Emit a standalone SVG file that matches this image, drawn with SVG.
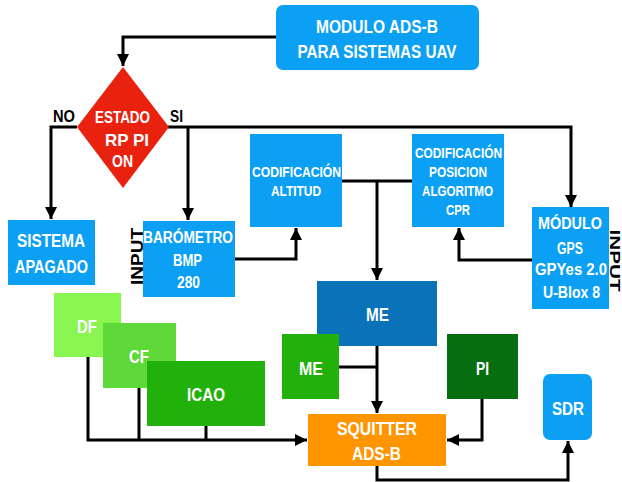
<svg xmlns="http://www.w3.org/2000/svg" width="622" height="482" viewBox="0 0 622 482">
<defs>
<marker id="ah" markerUnits="userSpaceOnUse" markerWidth="12" markerHeight="12" refX="12" refY="6" orient="auto">
<path d="M0,0 L12,6 L0,12 z" fill="#000"/>
</marker>
<style>
.t{font-family:"Liberation Sans",Arial,sans-serif;font-weight:bold;fill:#fff;text-anchor:middle}
.k{font-family:"Liberation Sans",Arial,sans-serif;font-weight:bold;fill:#000;text-anchor:middle}
.c{fill:none;stroke:#000;stroke-width:3}
.a{marker-end:url(#ah)}
.blue{fill:#0ca0f5}
</style>
</defs>
<rect width="622" height="482" fill="#fff"/>

<g id="connectors">
<path class="c a" d="M276,37 H123 V66"/>
<path class="c a" d="M77,127 H51 V219"/>
<path class="c a" d="M168,127 H571 V207"/>
<path class="c a" d="M188,127 V220"/>
<path class="c a" d="M235,259 H296 V228"/>
<path class="c" d="M342,181 H412"/>
<path class="c a" d="M377,181 V280"/>
<path class="c a" d="M532,260 H459 V228"/>
<path class="c a" d="M88,357 V440 H307"/>
<path class="c" d="M139,388 V440"/>
<path class="c" d="M206,426 V440"/>
<path class="c" d="M339,367 H377"/>
<path class="c a" d="M377,346 V413"/>
<path class="c a" d="M482,399 V440 H447"/>
<path class="c a" d="M377,466 V480 H568 V441"/>
</g>

<g id="modulo">
<rect class="blue" x="276" y="5" width="203" height="65" rx="7"/>
<text class="t" x="377" y="33" font-size="18" textLength="122" lengthAdjust="spacingAndGlyphs">MODULO ADS-B</text>
<text class="t" x="377" y="58" font-size="18" textLength="159" lengthAdjust="spacingAndGlyphs">PARA SISTEMAS UAV</text>
</g>

<g id="estado">
<polygon points="123,67 169,127 123,188 77,127" fill="#e8220f"/>
<text class="t" x="122.5" y="123" font-size="17" textLength="55" lengthAdjust="spacingAndGlyphs">ESTADO</text>
<text class="t" x="127" y="146" font-size="17" textLength="44" lengthAdjust="spacingAndGlyphs">RP PI</text>
<text class="t" x="122.5" y="167" font-size="17" textLength="21" lengthAdjust="spacingAndGlyphs">ON</text>
</g>

<g id="labels">
<text class="k" x="64" y="122" font-size="17" textLength="22" lengthAdjust="spacingAndGlyphs">NO</text>
<text class="k" x="176.5" y="122" font-size="17" textLength="13" lengthAdjust="spacingAndGlyphs">SI</text>
<text class="k" transform="translate(143,256.5) rotate(-90)" x="0" y="0" font-size="16" textLength="57" lengthAdjust="spacingAndGlyphs">INPUT</text>
<text class="k" transform="translate(610,260.5) rotate(90)" x="0" y="0" font-size="14" textLength="62" lengthAdjust="spacingAndGlyphs">INPUT</text>
</g>

<g id="apagado">
<rect class="blue" x="8" y="220" width="87" height="65"/>
<text class="t" x="51" y="247" font-size="18" textLength="68" lengthAdjust="spacingAndGlyphs">SISTEMA</text>
<text class="t" x="51.5" y="273" font-size="18" textLength="73" lengthAdjust="spacingAndGlyphs">APAGADO</text>
</g>

<g id="barometro">
<rect class="blue" x="143" y="221" width="92" height="76"/>
<text class="t" x="188" y="243" font-size="16" textLength="90" lengthAdjust="spacingAndGlyphs">BARÓMETRO</text>
<text class="t" x="187.5" y="266" font-size="16" textLength="29" lengthAdjust="spacingAndGlyphs">BMP</text>
<text class="t" x="188.5" y="288" font-size="16" textLength="23" lengthAdjust="spacingAndGlyphs">280</text>
</g>

<g id="altitud">
<rect class="blue" x="250" y="134" width="92" height="93"/>
<text class="t" x="296.5" y="177" font-size="15" textLength="89" lengthAdjust="spacingAndGlyphs">CODIFICACIÓN</text>
<text class="t" x="296" y="196" font-size="15" textLength="50" lengthAdjust="spacingAndGlyphs">ALTITUD</text>
</g>

<g id="posicion">
<rect class="blue" x="412" y="134" width="92" height="93"/>
<text class="t" x="458.5" y="158" font-size="15" textLength="87" lengthAdjust="spacingAndGlyphs">CODIFICACIÓN</text>
<text class="t" x="458" y="177" font-size="15" textLength="58" lengthAdjust="spacingAndGlyphs">POSICION</text>
<text class="t" x="457.5" y="196" font-size="15" textLength="71" lengthAdjust="spacingAndGlyphs">ALGORITMO</text>
<text class="t" x="458" y="215" font-size="15" textLength="24" lengthAdjust="spacingAndGlyphs">CPR</text>
</g>

<g id="gps">
<rect class="blue" x="532" y="207" width="77" height="102"/>
<text class="t" x="570" y="229" font-size="16" textLength="64" lengthAdjust="spacingAndGlyphs">MÓDULO</text>
<text class="t" x="570" y="254" font-size="16" textLength="26" lengthAdjust="spacingAndGlyphs">GPS</text>
<text class="t" x="571" y="275" font-size="16" textLength="72" lengthAdjust="spacingAndGlyphs">GPYes 2.0</text>
<text class="t" x="571.5" y="298" font-size="16" textLength="57" lengthAdjust="spacingAndGlyphs">U-Blox 8</text>
</g>

<g id="df">
<rect x="54" y="293" width="67" height="64" fill="#89f550"/>
<text class="t" x="87" y="333" font-size="18" textLength="20" lengthAdjust="spacingAndGlyphs">DF</text>
</g>

<g id="cf">
<rect x="103" y="323" width="73" height="65" fill="#5fd93a"/>
<text class="t" x="139" y="363" font-size="18" textLength="20" lengthAdjust="spacingAndGlyphs">CF</text>
</g>

<g id="icao">
<rect x="147" y="361" width="118" height="65" fill="#22b00a"/>
<text class="t" x="206" y="401" font-size="18" textLength="38" lengthAdjust="spacingAndGlyphs">ICAO</text>
</g>

<g id="me-main">
<rect x="317" y="281" width="120" height="65" fill="#0a72b6"/>
<text class="t" x="377.5" y="321" font-size="18" textLength="23" lengthAdjust="spacingAndGlyphs">ME</text>
</g>

<g id="me-green">
<rect x="282" y="334" width="57" height="65" fill="#22b00a"/>
<text class="t" x="311" y="375" font-size="18" textLength="24" lengthAdjust="spacingAndGlyphs">ME</text>
</g>

<g id="pi">
<rect x="447" y="334" width="71" height="65" fill="#066e10"/>
<text class="t" x="482.5" y="375" font-size="18" textLength="13" lengthAdjust="spacingAndGlyphs">PI</text>
</g>

<g id="squitter">
<rect x="308" y="414" width="138" height="52" fill="#ff9500"/>
<text class="t" x="377" y="435" font-size="18" textLength="80" lengthAdjust="spacingAndGlyphs">SQUITTER</text>
<text class="t" x="376.5" y="460" font-size="18" textLength="49" lengthAdjust="spacingAndGlyphs">ADS-B</text>
</g>

<g id="sdr">
<rect class="blue" x="543" y="374" width="49" height="66" rx="7"/>
<text class="t" x="568" y="415" font-size="18" textLength="32" lengthAdjust="spacingAndGlyphs">SDR</text>
</g>
</svg>
